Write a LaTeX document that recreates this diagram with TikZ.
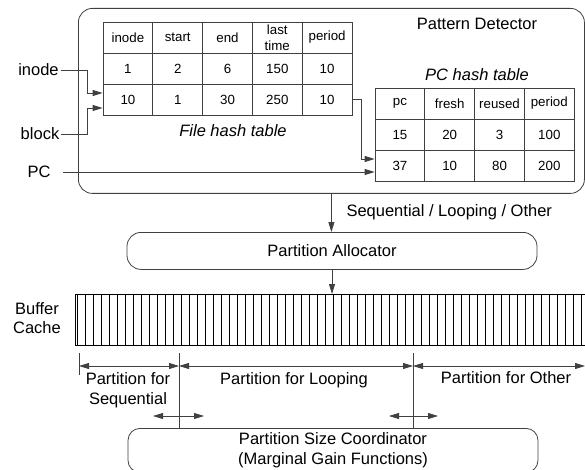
\documentclass[tikz,border=0pt]{standalone}
\usepackage{fontspec}
\setmainfont{Liberation Sans}
\usetikzlibrary{arrows.meta,calc}
\begin{document}
\begin{tikzpicture}[x=1pt,y=-1pt,
  big/.style={font=\fontsize{16.5}{19.5}\selectfont},
  bigit/.style={font=\fontsize{16.5}{19.5}\selectfont\itshape},
  tab/.style={font=\fontsize{13.3}{16}\selectfont},
  cell/.style={draw=black!75, line width=0.8pt, minimum width=49.8pt, minimum height=31pt, inner sep=0pt, tab, align=center},
  rbox/.style={draw=black!75, line width=0.8pt, rounded corners=14pt, big, align=center, inner sep=0pt},
  lbl/.style={big, inner sep=2pt},
  conn/.style={draw=black!75, line width=0.8pt},
  arr/.style={conn, -{Triangle[length=10pt,width=6pt]}},
  darr/.style={conn, {Triangle[length=10pt,width=6pt]}-{Triangle[length=10pt,width=6pt]}},
  bufline/.style={draw=black, line width=1pt}
]
\useasboundingbox (0,0) rectangle (585,470);
\clip (0,0) rectangle (585,470);

% Pattern detector
\node[rbox, minimum width=506pt, minimum height=185pt, anchor=north west] (pd) at (78,8) {};
\node[big] (pdt) at (477,24) {Pattern Detector};

% File hash table
\foreach \c [count=\i] in {inode,start,end,{last\\time},period}
  \node[cell] (f-1-\i) at ({103+49.8*(\i-0.5)},37.5) {\c};
\foreach \c [count=\i] in {1,2,6,150,10}
  \node[cell] (f-2-\i) at ({103+49.8*(\i-0.5)},68.5) {\c};
\foreach \c [count=\i] in {10,1,30,250,10}
  \node[cell] (f-3-\i) at ({103+49.8*(\i-0.5)},99.5) {\c};
\node[bigit] (fcap) at (233,131) {File hash table};

% PC hash table
\foreach \c [count=\i] in {pc,fresh,reused,period}
  \node[cell] (p-1-\i) at ({375+49.8*(\i-0.5)},103.5) {\c};
\foreach \c [count=\i] in {15,20,3,100}
  \node[cell] (p-2-\i) at ({375+49.8*(\i-0.5)},134.5) {\c};
\foreach \c [count=\i] in {37,10,80,200}
  \node[cell] (p-3-\i) at ({375+49.8*(\i-0.5)},165.5) {\c};
\node[bigit] (pcap) at (477,75) {PC hash table};

% inputs
\node[lbl] (inl) at (38.5,70) {inode};
\node[lbl] (bl) at (40,134) {block};
\node[lbl] (pcl) at (39,172) {PC};
\coordinate (jx) at (87,0);
\coordinate (jy) at (361,0);
\draw[arr] (inl.east) -- (inl.east -| jx) |- ($(f-3-1.west)+(0,-6.5)$);
\draw[arr] (bl.east) -- (bl.east -| jx) |- ($(f-3-1.west)+(0,8.5)$);
\draw[arr, shorten <=10pt] (pcl.east) -- (pcl.east -| p-3-1.west);
\draw[arr] (f-3-5.east) -- (f-3-5.east -| jy) |- ($(p-3-1.west)+(0,-6.5)$);

% Partition allocator
\node[rbox, minimum width=410pt, minimum height=37pt, anchor=north] (alloc) at (332,232) {Partition Allocator};
\draw[arr] (pd.south) -- (pd.south |- alloc.north);
\node[big, anchor=west] (slo) at (343,212) {Sequential / Looping / Other};

% Buffer cache
\node[draw=black, line width=1.2pt, minimum width=520pt, minimum height=51pt, inner sep=0pt, anchor=north west] (buf) at (75,294) {};
\foreach \k in {0,...,63}
  \draw[bufline] ({77+8*\k},294) -- ({77+8*\k},345);
\node[big, align=center] (bcl) at (37,318) {Buffer\\Cache};
\draw[arr] (alloc.south) -- (alloc.south |- buf.north);

% Partition size coordinator
\node[rbox, rounded corners=12pt, minimum width=410pt, minimum height=44pt, anchor=north] (psc) at (333,428) {Partition Size Coordinator\\(Marginal Gain Functions)};

% dimension lines
\coordinate (d0) at (79,366);
\coordinate (d1) at (179,366);
\coordinate (d2) at (413,366);
\coordinate (d3) at (585,366);
\coordinate (t0) at (79,353);
\coordinate (t1) at (179,353);
\coordinate (t2) at (413,353);
\draw[conn] (t0) -- ++(0,22);
\draw[conn] (t1) -- (t1 |- psc.north);
\draw[conn] (t2) -- (t2 |- psc.north);
\draw[darr] (d0) -- (d1);
\draw[darr] (d1) -- (d2);
\draw[darr] (d2) -- (d3);
\coordinate (s0) at (153,416);
\coordinate (s1) at (204,416);
\coordinate (s2) at (389,416);
\coordinate (s3) at (438,416);
\draw[darr] (s0) -- (s1);
\draw[darr] (s2) -- (s3);

\node[font=\fontsize{16.5}{20}\selectfont, align=center] (ls) at (128,390) {Partition for\\Sequential};
\node[big] (ll) at (294,380) {Partition for Looping};
\node[big] (lo) at (506,378) {Partition for Other};
\end{tikzpicture}
\end{document}
